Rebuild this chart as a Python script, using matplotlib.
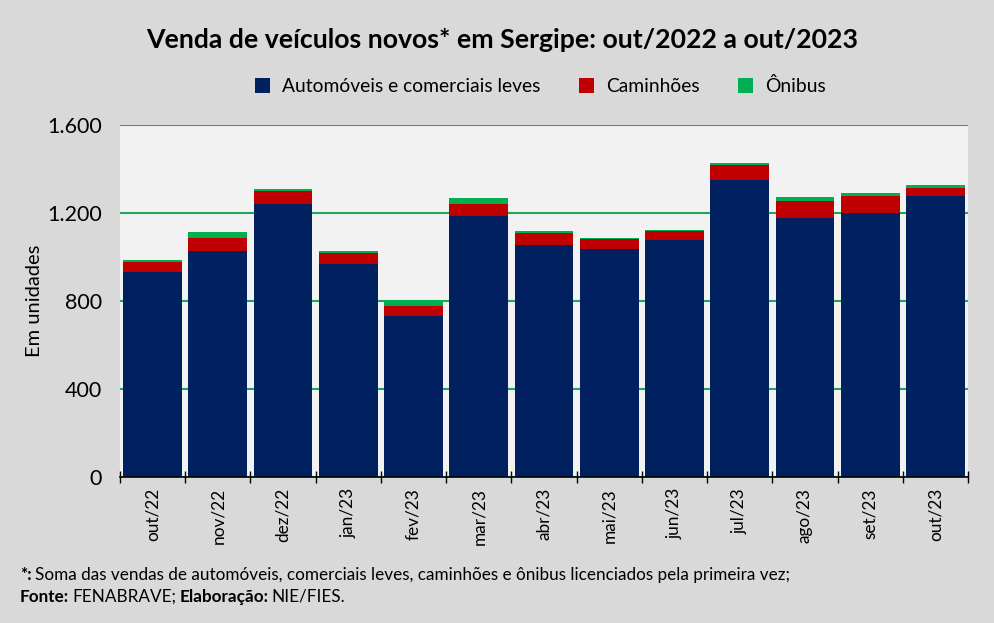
import matplotlib
matplotlib.use('Agg')
import matplotlib.pyplot as plt
import numpy as np

plt.rcParams['font.family'] = ['Lato', 'DejaVu Sans']

meses = ['out/22', 'nov/22', 'dez/22', 'jan/23', 'fev/23', 'mar/23', 'abr/23',
         'mai/23', 'jun/23', 'jul/23', 'ago/23', 'set/23', 'out/23']
automoveis = [932, 1027, 1241, 968, 732, 1186, 1054, 1036, 1077, 1350, 1177, 1200, 1277]
caminhoes = [45, 59, 59, 50, 45, 55, 53, 46, 41, 68, 77, 77, 37]
onibus = [9, 27, 9, 9, 26, 27, 11, 4, 5, 9, 19, 14, 13]
yticks = [0, 400, 800, 1200, 1600]

azul = '#002060'
vermelho = '#c00000'
verde = '#00b050'

fig = plt.figure(figsize=(9.95, 6.23), dpi=100, facecolor='#d9d9d9')
ax = fig.add_axes([0.1206, 0.2343, 0.8523, 0.5651])
ax.set_facecolor('#f2f2f2')

x = np.arange(len(meses))
auto = np.array(automoveis)
cam = np.array(caminhoes)
oni = np.array(onibus)
w = 0.9
ax.bar(x, auto, w, color=azul, label='Automóveis e comerciais leves', zorder=3)
ax.bar(x, cam, w, bottom=auto, color=vermelho, label='Caminhões', zorder=3)
ax.bar(x, oni, w, bottom=auto + cam, color=verde, label='Ônibus', zorder=3)

ax.set_xlim(-0.5, len(meses) - 0.5)
ax.set_ylim(0, 1600)
ax.set_yticks(yticks)
ax.set_yticklabels([f'{v:,}'.replace(',', '.') for v in yticks], fontsize=15.5)
ax.yaxis.grid(True, color='#1fa85a', linewidth=1.5, zorder=0)
ax.set_axisbelow(True)

ax.set_xticks(x)
ax.set_xticklabels(meses, rotation=90, fontsize=12.4)
ax.tick_params(axis='x', length=0, pad=8)
ax.set_xticks(np.arange(-0.5, len(meses)), minor=True)
ax.tick_params(axis='x', which='minor', direction='inout', length=8, width=1, color='black')
ax.tick_params(axis='y', length=0, pad=13)

for s in ['top', 'right', 'left']:
    ax.spines[s].set_visible(False)
ax.spines['bottom'].set_linewidth(1.2)
ax.spines['bottom'].set_zorder(4)

ax.set_ylabel('Em unidades', fontsize=14.5, labelpad=3)

fig.text(0.505, 0.935, 'Venda de veículos novos* em Sergipe: out/2022 a out/2023',
         ha='center', va='center', fontsize=19.2, fontweight='bold')
fig.legend(loc='center', bbox_to_anchor=(0.543, 0.862), ncol=3, frameon=False,
           fontsize=13.9, handlelength=0.8, handleheight=0.8, columnspacing=2.0,
           handletextpad=0.6)

# rodapé com partes em negrito
fig.canvas.draw()
r = fig.canvas.get_renderer()
def linha(y, partes):
    xpos = 20
    for txt, bold in partes:
        t = fig.text(xpos / 995, y, txt, fontsize=12.3, va='center',
                     fontweight='bold' if bold else 'normal')
        xpos = t.get_window_extent(renderer=r).x1 + 3

linha(1 - 575 / 623, [('*:', True), ('Soma das vendas de automóveis, comerciais leves, caminhões e ônibus licenciados pela primeira vez;', False)])
linha(1 - 597 / 623, [('Fonte:', True), ('FENABRAVE;', False), ('Elaboração:', True), ('NIE/FIES.', False)])

fig.savefig('out.png', dpi=100, facecolor=fig.get_facecolor())
